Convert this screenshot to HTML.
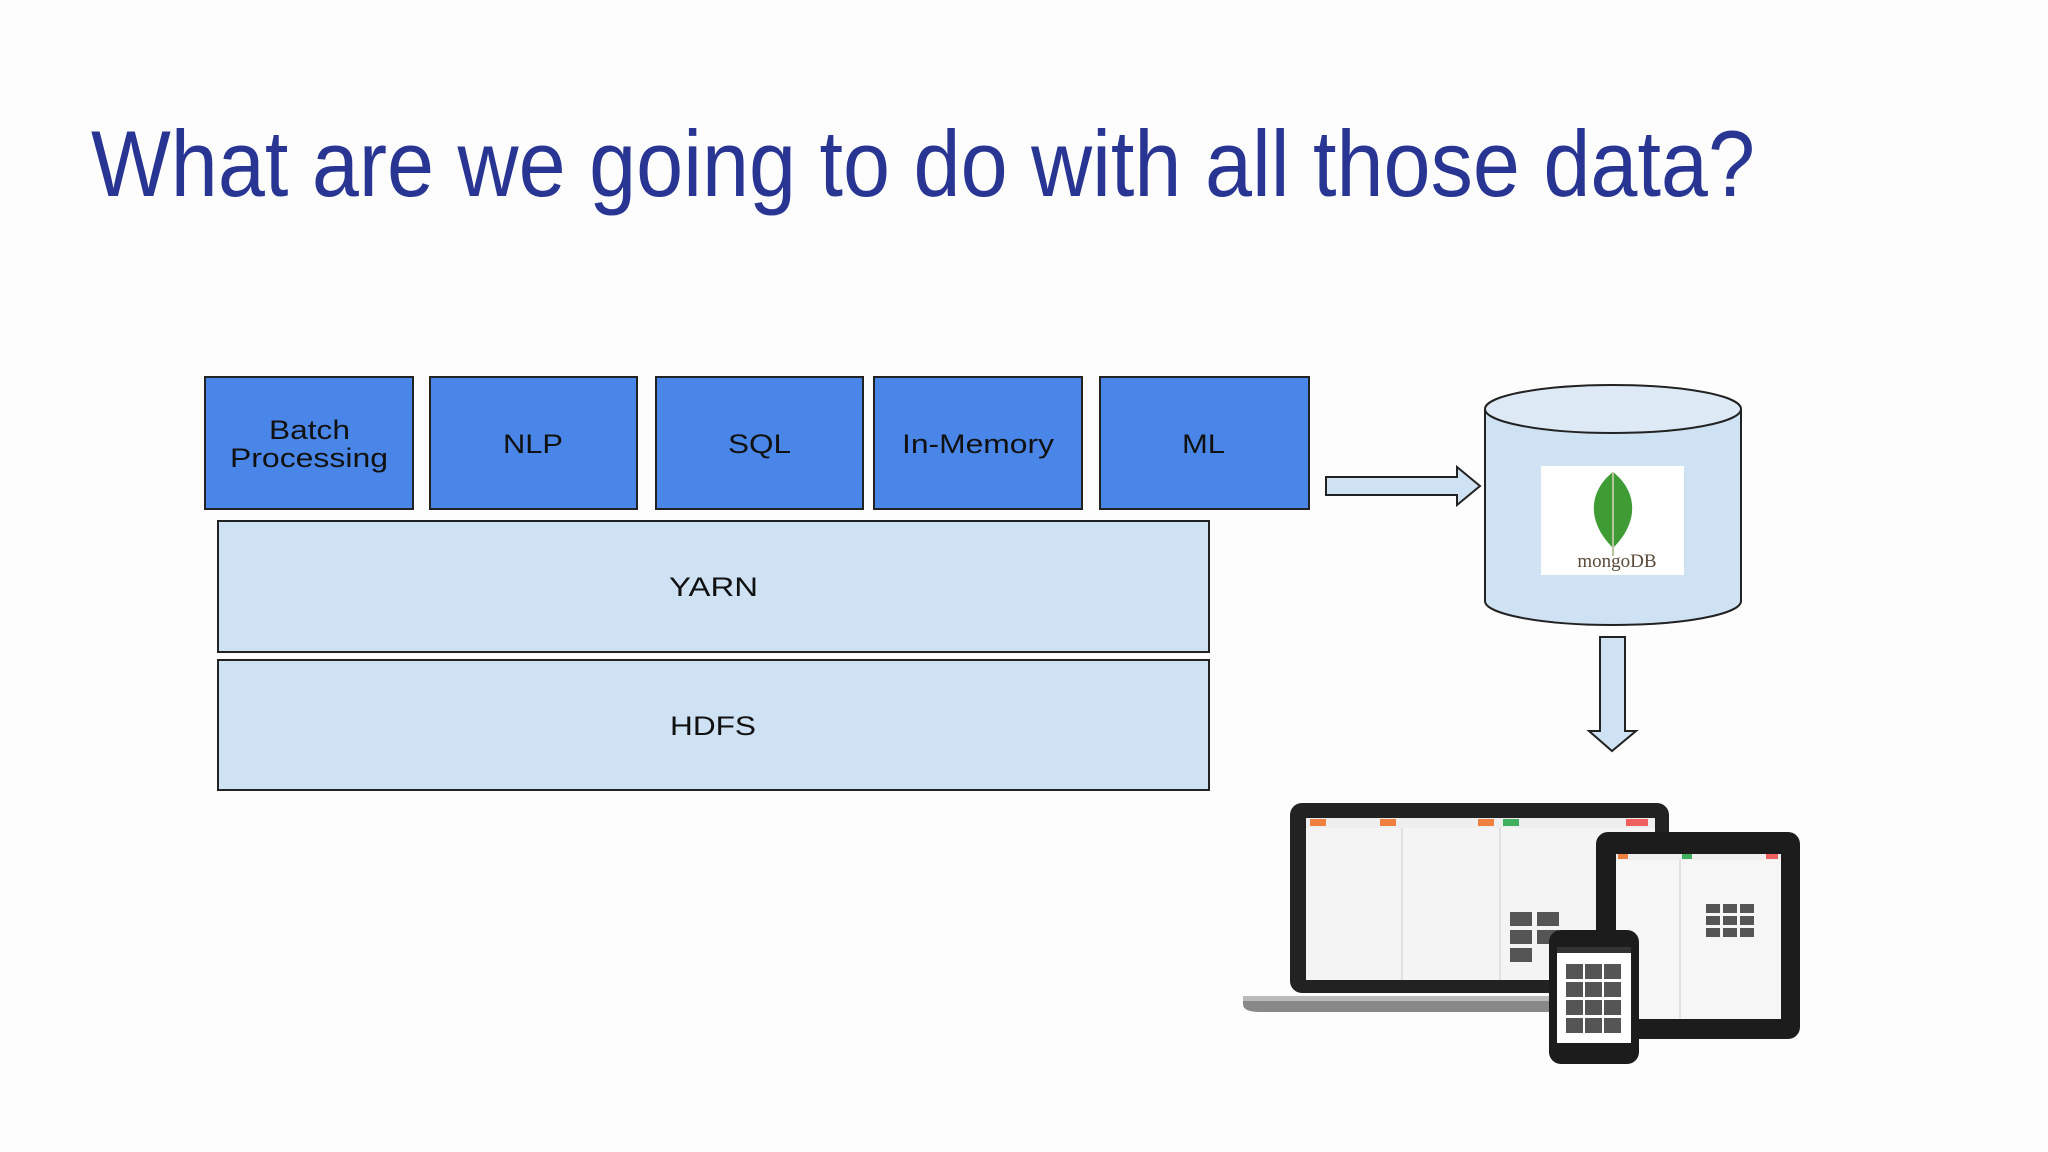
<!DOCTYPE html>
<html><head><meta charset="utf-8"><style>
html,body{margin:0;padding:0;background:#fff;width:2048px;height:1152px;overflow:hidden}
svg{display:block}
</style></head><body>
<svg width="2048" height="1152" viewBox="0 0 2048 1152" xmlns="http://www.w3.org/2000/svg" font-family="Liberation Sans, Arial, sans-serif">
<rect width="2048" height="1152" fill="#fdfdfd"/>
<text x="91" y="196" font-size="94" fill="#283593" textLength="1664" lengthAdjust="spacingAndGlyphs">What are we going to do with all those data?</text>
<g stroke="#222" stroke-width="2" fill="#4a86e8">
<rect x="205" y="377" width="208" height="132"/>
<rect x="430" y="377" width="207" height="132"/>
<rect x="656" y="377" width="207" height="132"/>
<rect x="874" y="377" width="208" height="132"/>
<rect x="1100" y="377" width="209" height="132"/>
</g>
<g font-size="27" fill="#111" lengthAdjust="spacingAndGlyphs">
<text x="269" y="439" textLength="81" lengthAdjust="spacingAndGlyphs">Batch</text>
<text x="230" y="467" textLength="158" lengthAdjust="spacingAndGlyphs">Processing</text>
<text x="503" y="453" textLength="60" lengthAdjust="spacingAndGlyphs">NLP</text>
<text x="728" y="453" textLength="63" lengthAdjust="spacingAndGlyphs">SQL</text>
<text x="902" y="453" textLength="152" lengthAdjust="spacingAndGlyphs">In-Memory</text>
<text x="1182" y="453" textLength="43" lengthAdjust="spacingAndGlyphs">ML</text>
</g>
<g stroke="#222" stroke-width="2" fill="#cfe2f3">
<rect x="218" y="521" width="991" height="131"/>
<rect x="218" y="660" width="991" height="130"/>
</g>
<g font-size="27" fill="#111">
<text x="669" y="596" textLength="89" lengthAdjust="spacingAndGlyphs">YARN</text>
<text x="670" y="735" textLength="86" lengthAdjust="spacingAndGlyphs">HDFS</text>
</g>
<path d="M1326 477 H1457 V467 L1480 486 L1457 505 V495 H1326 Z" fill="#cfe2f3" stroke="#222" stroke-width="2"/>
<path d="M1485 409 V601 A128 24 0 0 0 1741 601 V409" fill="#cfe2f3" stroke="#222" stroke-width="2"/>
<ellipse cx="1613" cy="409" rx="128" ry="24" fill="#dde9f5" stroke="#222" stroke-width="2"/>
<rect x="1541" y="466" width="143" height="109" fill="#fff"/>
<path d="M1613 472 C1590 490 1585 520 1613 548 C1641 520 1636 490 1613 472 Z" fill="#3f9c35"/>
<path d="M1613 472 L1613 556" stroke="#b8c4a0" stroke-width="2"/>
<text x="1617" y="567" font-size="19" fill="#5a4a3a" text-anchor="middle" font-family="Liberation Serif, serif">mongoDB</text>
<path d="M1600 637 H1625 V731 H1636 L1612 751 L1589 731 H1600 Z" fill="#cfe2f3" stroke="#222" stroke-width="2"/>
<!-- laptop -->
<rect x="1290" y="803" width="379" height="190" rx="12" fill="#222"/>
<rect x="1306" y="818" width="349" height="162" fill="#f4f4f4"/>
<rect x="1306" y="818" width="349" height="10" fill="#eee"/>
<rect x="1310" y="819" width="16" height="7" fill="#f08040"/>
<rect x="1380" y="819" width="16" height="7" fill="#f08040"/>
<rect x="1478" y="819" width="16" height="7" fill="#f08040"/>
<rect x="1503" y="819" width="16" height="7" fill="#40b060"/>
<rect x="1626" y="819" width="22" height="7" fill="#f06060"/>
<line x1="1402" y1="828" x2="1402" y2="980" stroke="#ccc"/>
<line x1="1500" y1="828" x2="1500" y2="980" stroke="#ccc"/>
<g fill="#555"><rect x="1510" y="912" width="22" height="14"/><rect x="1537" y="912" width="22" height="14"/><rect x="1510" y="930" width="22" height="14"/><rect x="1537" y="930" width="22" height="14"/><rect x="1510" y="948" width="22" height="14"/></g>
<path d="M1243 996 H1669 V1012 H1260 Q1243 1012 1243 1004 Z" fill="#888"/>
<rect x="1243" y="996" width="426" height="5" fill="#bbb"/>
<!-- tablet -->
<rect x="1596" y="832" width="204" height="207" rx="12" fill="#1c1c1c"/>
<rect x="1616" y="854" width="165" height="165" fill="#f6f6f6"/>
<rect x="1616" y="854" width="165" height="6" fill="#eee"/>
<rect x="1618" y="854" width="10" height="5" fill="#f08040"/>
<rect x="1682" y="854" width="10" height="5" fill="#40b060"/>
<rect x="1766" y="854" width="12" height="5" fill="#f06060"/>
<line x1="1680" y1="860" x2="1680" y2="1019" stroke="#ccc"/>
<g fill="#555"><rect x="1706" y="904" width="14" height="9"/><rect x="1723" y="904" width="14" height="9"/><rect x="1740" y="904" width="14" height="9"/><rect x="1706" y="916" width="14" height="9"/><rect x="1723" y="916" width="14" height="9"/><rect x="1740" y="916" width="14" height="9"/><rect x="1706" y="928" width="14" height="9"/><rect x="1723" y="928" width="14" height="9"/><rect x="1740" y="928" width="14" height="9"/></g>
<!-- phone -->
<rect x="1549" y="930" width="90" height="134" rx="12" fill="#1c1c1c"/>
<rect x="1557" y="947" width="74" height="96" fill="#fff"/>
<rect x="1557" y="947" width="74" height="6" fill="#333"/>
<g fill="#555"><rect x="1566" y="964" width="17" height="15"/><rect x="1585" y="964" width="17" height="15"/><rect x="1604" y="964" width="17" height="15"/><rect x="1566" y="982" width="17" height="15"/><rect x="1585" y="982" width="17" height="15"/><rect x="1604" y="982" width="17" height="15"/><rect x="1566" y="1000" width="17" height="15"/><rect x="1585" y="1000" width="17" height="15"/><rect x="1604" y="1000" width="17" height="15"/><rect x="1566" y="1018" width="17" height="15"/><rect x="1585" y="1018" width="17" height="15"/><rect x="1604" y="1018" width="17" height="15"/></g>
</svg>
</body></html>
